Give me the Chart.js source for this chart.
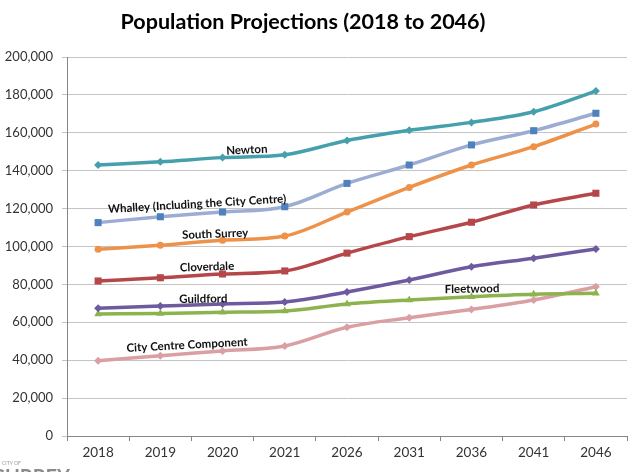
<!DOCTYPE html>
<html><head><meta charset="utf-8">
<script src="https://cdn.jsdelivr.net/npm/chart.js@4.4.1/dist/chart.umd.min.js"></script>
<style>html,body{margin:0;padding:0;background:#fff}canvas{display:block}</style>
</head><body>
<canvas id="c" width="640" height="472"></canvas>
<script>
const years = ['2018','2019','2020','2021','2026','2031','2036','2041','2046'];
const newton      = [143000,144700,146900,148400,155900,161300,165500,171100,182000];
const whalley     = [112600,115700,118200,121000,133300,143000,153600,161100,170300];
const southSurrey = [98500,100600,103300,105500,118200,131200,143000,152700,164600];
const cloverdale  = [81800,83500,85500,87100,96500,105200,112800,121900,128100];
const guildford   = [67400,68600,69700,70700,76000,82300,89300,93800,98700];
const fleetwood   = [64400,64700,65300,66000,69700,71800,73500,74800,75300];
const cityCentre  = [39700,42400,44900,47500,57400,62400,66800,71800,78800];
const yTicks = [0,20000,40000,60000,80000,100000,120000,140000,160000,180000,200000];
const titleText = 'Population Projections (2018 to 2046)';

const seriesLabels = [
  {text:'Newton', x:2.39, y:150900, rot:-3},
  {text:'Whalley (Including the City Centre)', x:1.59, y:122400, rot:-3.4},
  {text:'South Surrey', x:1.88, y:106600, rot:-2},
  {text:'Cloverdale', x:1.75, y:89200, rot:-2},
  {text:'Guildford', x:1.69, y:72300, rot:-1},
  {text:'City Centre Component', x:1.43, y:48000, rot:-3},
  {text:'Fleetwood', x:6.01, y:77600, rot:-1}
];

const FONT = 'Lato, "Open Sans", sans-serif';

function ds(label, data, line, point, style, r){
  return {label, data, borderColor:line, backgroundColor:point, pointBackgroundColor:point,
    pointBorderColor:point, pointBorderWidth:0, pointStyle:style, pointRadius:r, pointHoverRadius:r,
    borderWidth:3.5, tension:0.25, cubicInterpolationMode:'monotone', fill:false};
}

const labelPlugin = {
  id:'seriesLabels',
  afterDraw(chart){
    const ctx = chart.ctx, xs = chart.scales.x, ys = chart.scales.y;
    ctx.save();
    // title
    ctx.font = 'bold 21.5px ' + FONT;
    ctx.fillStyle = '#000';
    ctx.textAlign = 'center';
    ctx.textBaseline = 'middle';
    ctx.fillText(titleText, 303, 22);
    // series labels
    ctx.font = 'bold 11.5px ' + FONT;
    ctx.fillStyle = '#111';
    seriesLabels.forEach(l=>{
      const px = xs.getPixelForValue(l.x), py = ys.getPixelForValue(l.y);
      ctx.save();
      ctx.translate(px, py);
      ctx.rotate(l.rot*Math.PI/180);
      ctx.fillText(l.text, 0, 0);
      ctx.restore();
    });
    // partial logo at bottom-left
    ctx.fillStyle = '#9a9a9a';
    ctx.textAlign = 'left';
    ctx.textBaseline = 'alphabetic';
    ctx.font = '5px ' + FONT;
    ctx.fillText('CITY OF', 2, 465);
    ctx.font = 'bold 20px ' + FONT;
    ctx.fillStyle = '#8a8a8a';
    ctx.fillText('SURREY', -6, 484);
    ctx.restore();
  }
};

new Chart(document.getElementById('c'), {
  type:'line',
  data:{
    labels: years,
    datasets:[
      ds('Newton', newton, '#45A0AC', '#45A0AC', 'rectRot', 4),
      ds('Whalley (Including the City Centre)', whalley, '#9CACD2', '#4F81BD', 'rect', 5),
      ds('South Surrey', southSurrey, '#EE9249', '#EE9249', 'circle', 3.5),
      ds('Cloverdale', cloverdale, '#B5474A', '#B5474A', 'rect', 5),
      ds('Guildford', guildford, '#6E5A9F', '#6E5A9F', 'rectRot', 4),
      ds('Fleetwood', fleetwood, '#8DB34F', '#8DB34F', 'triangle', 4.5),
      ds('City Centre Component', cityCentre, '#DA9FA2', '#DA9FA2', 'rectRot', 4)
    ]
  },
  options:{
    responsive:false,
    animation:false,
    layout:{padding:{left:0,right:13,top:57,bottom:0}},
    plugins:{
      legend:{display:false},
      tooltip:{enabled:false},
      title:{display:false}
    },
    scales:{
      x:{
        offset:true,
        grid:{display:true, drawOnChartArea:false, offset:true, tickLength:5, color:'#868686'},
        border:{color:'#868686', width:1},
        ticks:{color:'#333', font:{family:FONT, size:13.5}, padding:4, maxRotation:0},
        afterFit(s){ s.height = 36; }
      },
      y:{
        min:0, max:200000,
        afterBuildTicks(s){ s.ticks = yTicks.map(v=>({value:v})); },
        grid:{color:'#C4C4C4', tickLength:5, lineWidth:1},
        border:{color:'#868686', width:1},
        ticks:{color:'#333', font:{family:FONT, size:13}, padding:9,
          callback:v=>v.toLocaleString('en-US')},
        afterFit(s){ s.width = 67; }
      }
    }
  },
  plugins:[labelPlugin]
});
</script>
</body></html>
